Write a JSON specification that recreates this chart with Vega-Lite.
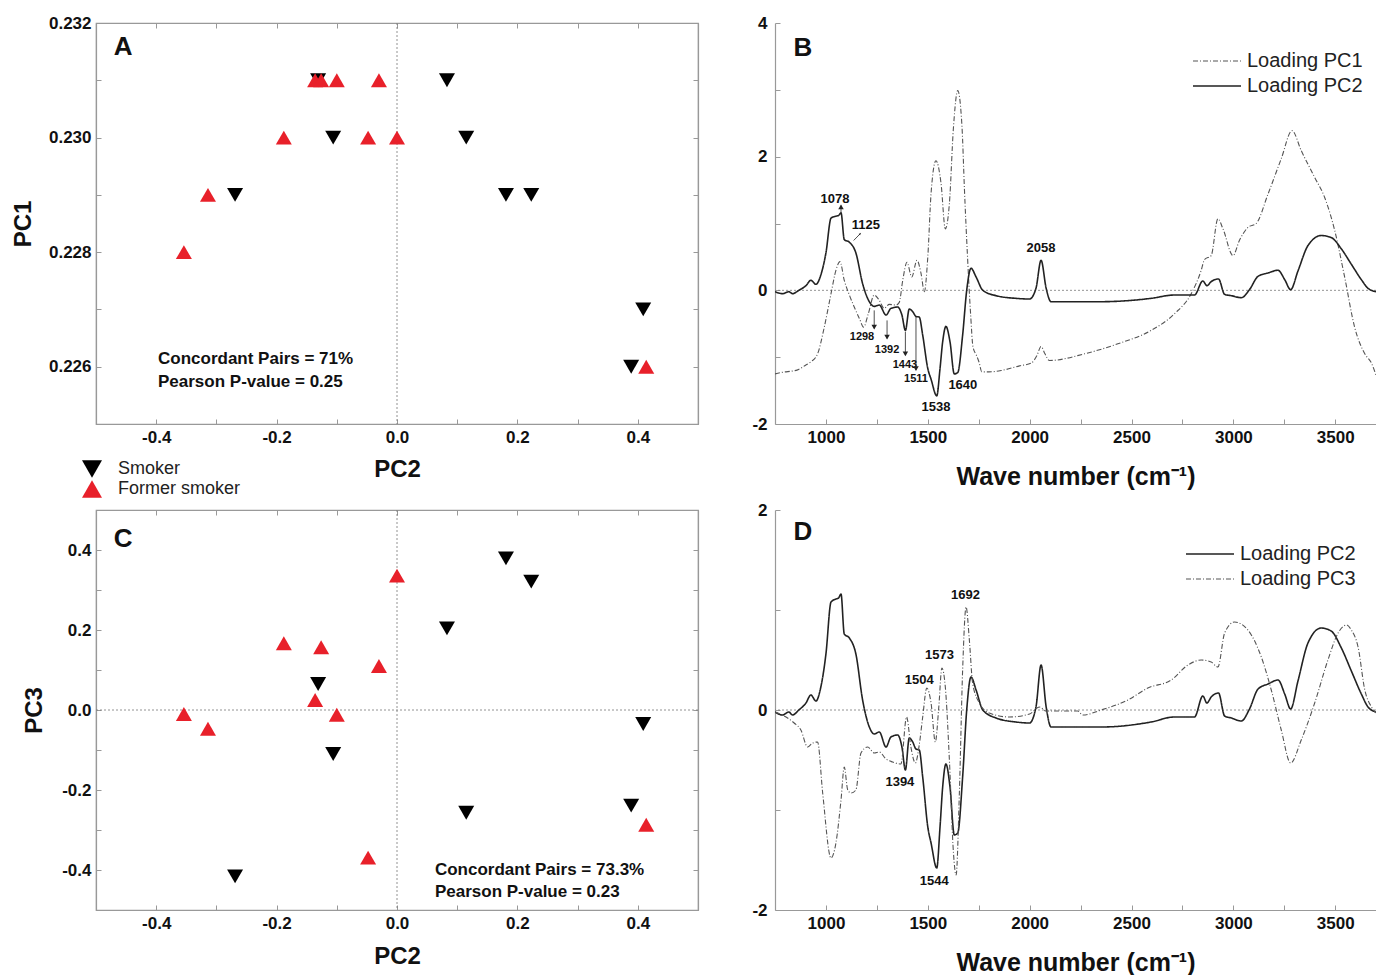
{
 "$schema": "https://vega.github.io/schema/vega-lite/v6.json",
 "background": "white",
 "padding": {"left": 10, "top": 13, "right": 0, "bottom": 0},
 "autosize": {"type": "pad"},
 "config": {
  "font": "Liberation Sans",
  "view": {"stroke": null},
  "axis": {"labelFont": "Liberation Sans", "labelFontWeight": "bold", "labelFontSize": 17, "labelColor": "#111", "titleFont": "Liberation Sans", "titleFontWeight": "bold", "titleFontSize": 24, "titleColor": "#111", "domainColor": "#999", "domainWidth": 1.2, "tickColor": "#999", "tickWidth": 1, "tickSize": -5, "labelPadding": 10, "grid": false, "labelFlush": false, "labelOverlap": false},
  "legend": {"labelFont": "Liberation Sans", "labelColor": "#222", "labelFontWeight": "normal", "padding": 0}
 },
 "datasets": {
  "pts": [
   {"group":"Smoker","PC2":-0.131,"PC1":0.231,"PC3":0.065},
   {"group":"Smoker","PC2":0.083,"PC1":0.231,"PC3":0.204},
   {"group":"Smoker","PC2":-0.106,"PC1":0.230,"PC3":-0.110},
   {"group":"Smoker","PC2":0.115,"PC1":0.230,"PC3":-0.257},
   {"group":"Smoker","PC2":-0.269,"PC1":0.229,"PC3":-0.416},
   {"group":"Smoker","PC2":0.181,"PC1":0.229,"PC3":0.379},
   {"group":"Smoker","PC2":0.223,"PC1":0.229,"PC3":0.321},
   {"group":"Smoker","PC2":0.409,"PC1":0.227,"PC3":-0.035},
   {"group":"Smoker","PC2":0.389,"PC1":0.226,"PC3":-0.239},
   {"group":"Former smoker","PC2":-0.136,"PC1":0.231,"PC3":0.025},
   {"group":"Former smoker","PC2":-0.126,"PC1":0.231,"PC3":0.157},
   {"group":"Former smoker","PC2":-0.100,"PC1":0.231,"PC3":-0.012},
   {"group":"Former smoker","PC2":-0.030,"PC1":0.231,"PC3":0.110},
   {"group":"Former smoker","PC2":-0.188,"PC1":0.230,"PC3":0.167},
   {"group":"Former smoker","PC2":-0.048,"PC1":0.230,"PC3":-0.369},
   {"group":"Former smoker","PC2":0.000,"PC1":0.230,"PC3":0.336},
   {"group":"Former smoker","PC2":-0.314,"PC1":0.229,"PC3":-0.047},
   {"group":"Former smoker","PC2":-0.354,"PC1":0.228,"PC3":-0.010},
   {"group":"Former smoker","PC2":0.414,"PC1":0.226,"PC3":-0.287}
  ],
  "spectra": [
   {"s":"Loading PC1","w":750,"v":-1.25},{"s":"Loading PC1","w":779,"v":-1.23},{"s":"Loading PC1","w":861,"v":-1.19},{"s":"Loading PC1","w":900,"v":-1.12},{"s":"Loading PC1","w":926,"v":-1.07},{"s":"Loading PC1","w":959,"v":-0.95},{"s":"Loading PC1","w":992,"v":-0.55},{"s":"Loading PC1","w":1025,"v":-0.05},{"s":"Loading PC1","w":1049,"v":0.30},{"s":"Loading PC1","w":1069,"v":0.43},{"s":"Loading PC1","w":1090,"v":0.15},{"s":"Loading PC1","w":1115,"v":-0.07},{"s":"Loading PC1","w":1139,"v":-0.25},{"s":"Loading PC1","w":1164,"v":-0.42},{"s":"Loading PC1","w":1185,"v":-0.55},{"s":"Loading PC1","w":1208,"v":-0.35},{"s":"Loading PC1","w":1237,"v":-0.07},{"s":"Loading PC1","w":1262,"v":-0.15},{"s":"Loading PC1","w":1286,"v":-0.27},{"s":"Loading PC1","w":1311,"v":-0.21},{"s":"Loading PC1","w":1344,"v":-0.22},{"s":"Loading PC1","w":1360,"v":-0.18},{"s":"Loading PC1","w":1377,"v":0.15},{"s":"Loading PC1","w":1398,"v":0.42},{"s":"Loading PC1","w":1421,"v":0.20},{"s":"Loading PC1","w":1447,"v":0.45},{"s":"Loading PC1","w":1467,"v":0.25},{"s":"Loading PC1","w":1483,"v":-0.02},{"s":"Loading PC1","w":1500,"v":0.50},{"s":"Loading PC1","w":1516,"v":1.45},{"s":"Loading PC1","w":1540,"v":1.94},{"s":"Loading PC1","w":1565,"v":1.60},{"s":"Loading PC1","w":1586,"v":0.92},{"s":"Loading PC1","w":1606,"v":1.30},{"s":"Loading PC1","w":1626,"v":2.44},{"s":"Loading PC1","w":1647,"v":2.99},{"s":"Loading PC1","w":1668,"v":2.44},{"s":"Loading PC1","w":1680,"v":1.50},{"s":"Loading PC1","w":1695,"v":0.50},{"s":"Loading PC1","w":1710,"v":-0.35},{"s":"Loading PC1","w":1722,"v":-0.85},{"s":"Loading PC1","w":1740,"v":-0.98},{"s":"Loading PC1","w":1752,"v":-1.08},{"s":"Loading PC1","w":1765,"v":-1.22},{"s":"Loading PC1","w":1800,"v":-1.22},{"s":"Loading PC1","w":1860,"v":-1.20},{"s":"Loading PC1","w":1950,"v":-1.13},{"s":"Loading PC1","w":2007,"v":-1.09},{"s":"Loading PC1","w":2035,"v":-0.98},{"s":"Loading PC1","w":2056,"v":-0.84},{"s":"Loading PC1","w":2075,"v":-0.95},{"s":"Loading PC1","w":2097,"v":-1.05},{"s":"Loading PC1","w":2269,"v":-0.95},{"s":"Loading PC1","w":2433,"v":-0.80},{"s":"Loading PC1","w":2596,"v":-0.60},{"s":"Loading PC1","w":2711,"v":-0.35},{"s":"Loading PC1","w":2793,"v":-0.05},{"s":"Loading PC1","w":2842,"v":0.30},{"s":"Loading PC1","w":2858,"v":0.46},{"s":"Loading PC1","w":2891,"v":0.52},{"s":"Loading PC1","w":2924,"v":1.07},{"s":"Loading PC1","w":2949,"v":0.92},{"s":"Loading PC1","w":2998,"v":0.52},{"s":"Loading PC1","w":3030,"v":0.75},{"s":"Loading PC1","w":3071,"v":0.94},{"s":"Loading PC1","w":3112,"v":1.00},{"s":"Loading PC1","w":3170,"v":1.44},{"s":"Loading PC1","w":3235,"v":1.97},{"s":"Loading PC1","w":3288,"v":2.39},{"s":"Loading PC1","w":3333,"v":2.09},{"s":"Loading PC1","w":3399,"v":1.69},{"s":"Loading PC1","w":3448,"v":1.39},{"s":"Loading PC1","w":3497,"v":0.90},{"s":"Loading PC1","w":3546,"v":0.20},{"s":"Loading PC1","w":3595,"v":-0.55},{"s":"Loading PC1","w":3645,"v":-0.95},{"s":"Loading PC1","w":3678,"v":-1.09},{"s":"Loading PC1","w":3700,"v":-1.27},
   {"s":"Loading PC2","w":750,"v":-0.02},{"s":"Loading PC2","w":787,"v":-0.05},{"s":"Loading PC2","w":818,"v":-0.02},{"s":"Loading PC2","w":836,"v":-0.05},{"s":"Loading PC2","w":867,"v":0.0},{"s":"Loading PC2","w":902,"v":0.07},{"s":"Loading PC2","w":926,"v":0.15},{"s":"Loading PC2","w":951,"v":0.09},{"s":"Loading PC2","w":975,"v":0.23},{"s":"Loading PC2","w":1000,"v":0.56},{"s":"Loading PC2","w":1025,"v":1.08},{"s":"Loading PC2","w":1049,"v":1.11},{"s":"Loading PC2","w":1062,"v":1.12},{"s":"Loading PC2","w":1074,"v":1.16},{"s":"Loading PC2","w":1090,"v":0.76},{"s":"Loading PC2","w":1115,"v":0.72},{"s":"Loading PC2","w":1147,"v":0.56},{"s":"Loading PC2","w":1180,"v":0.10},{"s":"Loading PC2","w":1213,"v":-0.17},{"s":"Loading PC2","w":1237,"v":-0.24},{"s":"Loading PC2","w":1262,"v":-0.22},{"s":"Loading PC2","w":1295,"v":-0.37},{"s":"Loading PC2","w":1319,"v":-0.27},{"s":"Loading PC2","w":1352,"v":-0.25},{"s":"Loading PC2","w":1373,"v":-0.37},{"s":"Loading PC2","w":1390,"v":-0.60},{"s":"Loading PC2","w":1409,"v":-0.28},{"s":"Loading PC2","w":1426,"v":-0.32},{"s":"Loading PC2","w":1442,"v":-0.39},{"s":"Loading PC2","w":1458,"v":-0.40},{"s":"Loading PC2","w":1475,"v":-0.67},{"s":"Loading PC2","w":1500,"v":-1.17},{"s":"Loading PC2","w":1516,"v":-1.33},{"s":"Loading PC2","w":1544,"v":-1.58},{"s":"Loading PC2","w":1560,"v":-1.17},{"s":"Loading PC2","w":1573,"v":-0.77},{"s":"Loading PC2","w":1589,"v":-0.54},{"s":"Loading PC2","w":1609,"v":-0.77},{"s":"Loading PC2","w":1630,"v":-1.25},{"s":"Loading PC2","w":1647,"v":-1.23},{"s":"Loading PC2","w":1671,"v":-0.67},{"s":"Loading PC2","w":1691,"v":0.0},{"s":"Loading PC2","w":1712,"v":0.33},{"s":"Loading PC2","w":1737,"v":0.20},{"s":"Loading PC2","w":1770,"v":0.0},{"s":"Loading PC2","w":1835,"v":-0.08},{"s":"Loading PC2","w":1933,"v":-0.12},{"s":"Loading PC2","w":1999,"v":-0.13},{"s":"Loading PC2","w":2031,"v":0.03},{"s":"Loading PC2","w":2056,"v":0.45},{"s":"Loading PC2","w":2081,"v":0.03},{"s":"Loading PC2","w":2105,"v":-0.17},{"s":"Loading PC2","w":2351,"v":-0.17},{"s":"Loading PC2","w":2596,"v":-0.12},{"s":"Loading PC2","w":2710,"v":-0.07},{"s":"Loading PC2","w":2809,"v":-0.07},{"s":"Loading PC2","w":2850,"v":0.14},{"s":"Loading PC2","w":2870,"v":0.07},{"s":"Loading PC2","w":2891,"v":0.13},{"s":"Loading PC2","w":2927,"v":0.17},{"s":"Loading PC2","w":2957,"v":-0.06},{"s":"Loading PC2","w":2990,"v":-0.08},{"s":"Loading PC2","w":3039,"v":-0.11},{"s":"Loading PC2","w":3079,"v":0.01},{"s":"Loading PC2","w":3121,"v":0.21},{"s":"Loading PC2","w":3170,"v":0.26},{"s":"Loading PC2","w":3219,"v":0.30},{"s":"Loading PC2","w":3252,"v":0.16},{"s":"Loading PC2","w":3281,"v":0.01},{"s":"Loading PC2","w":3317,"v":0.29},{"s":"Loading PC2","w":3366,"v":0.67},{"s":"Loading PC2","w":3431,"v":0.82},{"s":"Loading PC2","w":3480,"v":0.79},{"s":"Loading PC2","w":3530,"v":0.62},{"s":"Loading PC2","w":3579,"v":0.39},{"s":"Loading PC2","w":3628,"v":0.16},{"s":"Loading PC2","w":3661,"v":0.03},{"s":"Loading PC2","w":3700,"v":-0.02},
   {"s":"Loading PC3","w":750,"v":-0.02},{"s":"Loading PC3","w":804,"v":-0.07},{"s":"Loading PC3","w":844,"v":-0.13},{"s":"Loading PC3","w":877,"v":-0.20},{"s":"Loading PC3","w":910,"v":-0.37},{"s":"Loading PC3","w":935,"v":-0.33},{"s":"Loading PC3","w":959,"v":-0.32},{"s":"Loading PC3","w":984,"v":-0.83},{"s":"Loading PC3","w":1025,"v":-1.48},{"s":"Loading PC3","w":1049,"v":-1.33},{"s":"Loading PC3","w":1074,"v":-0.90},{"s":"Loading PC3","w":1090,"v":-0.57},{"s":"Loading PC3","w":1107,"v":-0.80},{"s":"Loading PC3","w":1123,"v":-0.83},{"s":"Loading PC3","w":1147,"v":-0.80},{"s":"Loading PC3","w":1172,"v":-0.43},{"s":"Loading PC3","w":1205,"v":-0.37},{"s":"Loading PC3","w":1237,"v":-0.43},{"s":"Loading PC3","w":1262,"v":-0.42},{"s":"Loading PC3","w":1295,"v":-0.49},{"s":"Loading PC3","w":1327,"v":-0.52},{"s":"Loading PC3","w":1368,"v":-0.54},{"s":"Loading PC3","w":1396,"v":-0.07},{"s":"Loading PC3","w":1417,"v":-0.37},{"s":"Loading PC3","w":1439,"v":-0.53},{"s":"Loading PC3","w":1458,"v":-0.35},{"s":"Loading PC3","w":1475,"v":-0.07},{"s":"Loading PC3","w":1495,"v":0.22},{"s":"Loading PC3","w":1516,"v":0.07},{"s":"Loading PC3","w":1537,"v":-0.32},{"s":"Loading PC3","w":1554,"v":0.03},{"s":"Loading PC3","w":1569,"v":0.42},{"s":"Loading PC3","w":1586,"v":0.23},{"s":"Loading PC3","w":1606,"v":-0.50},{"s":"Loading PC3","w":1626,"v":-1.43},{"s":"Loading PC3","w":1639,"v":-1.65},{"s":"Loading PC3","w":1655,"v":-0.83},{"s":"Loading PC3","w":1671,"v":0.40},{"s":"Loading PC3","w":1688,"v":1.03},{"s":"Loading PC3","w":1704,"v":0.70},{"s":"Loading PC3","w":1720,"v":0.27},{"s":"Loading PC3","w":1753,"v":0.07},{"s":"Loading PC3","w":1802,"v":-0.03},{"s":"Loading PC3","w":1900,"v":-0.07},{"s":"Loading PC3","w":2000,"v":-0.04},{"s":"Loading PC3","w":2048,"v":0.03},{"s":"Loading PC3","w":2081,"v":-0.01},{"s":"Loading PC3","w":2236,"v":-0.01},{"s":"Loading PC3","w":2261,"v":-0.05},{"s":"Loading PC3","w":2351,"v":0.0},{"s":"Loading PC3","w":2482,"v":0.10},{"s":"Loading PC3","w":2580,"v":0.22},{"s":"Loading PC3","w":2695,"v":0.30},{"s":"Loading PC3","w":2777,"v":0.45},{"s":"Loading PC3","w":2842,"v":0.50},{"s":"Loading PC3","w":2891,"v":0.48},{"s":"Loading PC3","w":2924,"v":0.43},{"s":"Loading PC3","w":2957,"v":0.77},{"s":"Loading PC3","w":3006,"v":0.88},{"s":"Loading PC3","w":3071,"v":0.80},{"s":"Loading PC3","w":3137,"v":0.53},{"s":"Loading PC3","w":3186,"v":0.20},{"s":"Loading PC3","w":3235,"v":-0.20},{"s":"Loading PC3","w":3281,"v":-0.53},{"s":"Loading PC3","w":3333,"v":-0.30},{"s":"Loading PC3","w":3399,"v":0.07},{"s":"Loading PC3","w":3464,"v":0.50},{"s":"Loading PC3","w":3514,"v":0.77},{"s":"Loading PC3","w":3555,"v":0.85},{"s":"Loading PC3","w":3579,"v":0.80},{"s":"Loading PC3","w":3612,"v":0.63},{"s":"Loading PC3","w":3645,"v":0.20},{"s":"Loading PC3","w":3678,"v":0.03},{"s":"Loading PC3","w":3700,"v":-0.03}
  ]
 },
 "columns": 2,
 "spacing": {"row": 86, "column": 77},
 "bounds": "flush",
 "resolve": {"scale": {"x": "independent", "y": "independent", "color": "independent", "shape": "independent", "strokeDash": "independent", "strokeWidth": "independent"}, "legend": {"color": "independent", "shape": "independent", "strokeDash": "independent"}},
 "concat": [
  {
   "width": 602, "height": 401,
   "view": {"stroke": "#999", "strokeWidth": 1.2},
   "resolve": {"axis": {"x": "independent", "y": "independent"}},
   "layer": [
    {"data": {"values": [{"zero": 0}]}, "mark": {"type": "rule", "color": "#777", "strokeDash": [2, 2], "strokeWidth": 0.8},
     "encoding": {"x": {"field": "zero", "type": "quantitative", "scale": {"domain": [-0.5, 0.5], "nice": false, "zero": false}, "axis": null}}},
    {"data": {"name": "pts"}, "mark": {"type": "point", "filled": true, "size": 256, "opacity": 1, "strokeWidth": 0},
     "encoding": {
      "x": {"field": "PC2", "type": "quantitative", "scale": {"domain": [-0.5, 0.5], "nice": false, "zero": false}, "axis": {"orient": "bottom", "title": "PC2", "titlePadding": 12, "values": [-0.5, -0.4, -0.3, -0.2, -0.1, 0, 0.1, 0.2, 0.3, 0.4, 0.5], "labelExpr": "abs(round(datum.value*10)) % 2 == 0 ? replace(format(datum.value, '.1f'), '\u2212', '-') : ''"}},
      "y": {"field": "PC1", "type": "quantitative", "scale": {"domain": [0.225, 0.232], "nice": false, "zero": false}, "axis": {"orient": "left", "title": "PC1", "titlePadding": 13, "values": [0.225, 0.226, 0.227, 0.228, 0.229, 0.23, 0.231, 0.232], "labelExpr": "round(datum.value*1000) % 2 == 0 ? format(datum.value, '.3f') : ''"}},
      "shape": {"field": "group", "type": "nominal", "scale": {"domain": ["Smoker", "Former smoker"], "range": ["triangle-down", "triangle-up"]}, "legend": {"title": null, "orient": "none", "legendX": -14, "legendY": 436, "labelFontSize": 18, "symbolSize": 400, "labelOffset": 16, "rowPadding": 1, "symbolStrokeWidth": 0}},
      "color": {"field": "group", "type": "nominal", "scale": {"domain": ["Smoker", "Former smoker"], "range": ["#000000", "#e8202a"]}, "legend": {"title": null, "orient": "none", "legendX": -14, "legendY": 436, "labelFontSize": 18, "symbolSize": 400, "labelOffset": 16, "rowPadding": 1, "symbolStrokeWidth": 0}}
     }},
    {"data": {"values": [{"label": "A", "x": -0.455, "y": 0.23158}]}, "mark": {"type": "text", "fontSize": 26, "fontWeight": "bold", "color": "#111", "align": "center", "baseline": "middle"},
     "encoding": {
      "x": {"field": "x", "type": "quantitative", "scale": {"domain": [-0.5, 0.5], "nice": false, "zero": false}, "axis": {"orient": "top", "labels": false, "title": null, "values": [-0.5, -0.4, -0.3, -0.2, -0.1, 0, 0.1, 0.2, 0.3, 0.4, 0.5]}},
      "y": {"field": "y", "type": "quantitative", "scale": {"domain": [0.225, 0.232], "nice": false, "zero": false}, "axis": {"orient": "right", "labels": false, "title": null, "values": [0.225, 0.226, 0.227, 0.228, 0.229, 0.23, 0.231, 0.232]}},
      "text": {"field": "label"}
     }},
    {"data": {"values": [{"label": "Concordant Pairs = 71%", "x": -0.397, "y": 0.22614}, {"label": "Pearson P-value = 0.25", "x": -0.397, "y": 0.22574}]}, "mark": {"type": "text", "fontSize": 17, "fontWeight": "bold", "color": "#111", "align": "left", "baseline": "middle"},
     "encoding": {
      "x": {"field": "x", "type": "quantitative", "scale": {"domain": [-0.5, 0.5], "nice": false, "zero": false}, "axis": null},
      "y": {"field": "y", "type": "quantitative", "scale": {"domain": [0.225, 0.232], "nice": false, "zero": false}, "axis": null},
      "text": {"field": "label"}
     }}
   ]
  },
  {
   "width": 601, "height": 401,
   "resolve": {"axis": {"x": "independent", "y": "independent"}},
   "layer": [
    {"data": {"values": [{"zero": 0}]}, "mark": {"type": "rule", "color": "#777", "strokeDash": [2, 2], "strokeWidth": 0.8},
     "encoding": {"y": {"field": "zero", "type": "quantitative", "scale": {"domain": [-2, 4], "nice": false, "zero": false}, "axis": null}}},
    {"data": {"name": "spectra"}, "transform": [{"filter": {"field": "s", "oneOf": ["Loading PC1", "Loading PC2"]}}],
     "mark": {"type": "line", "interpolate": "monotone", "clip": true},
     "encoding": {
      "x": {"field": "w", "type": "quantitative", "scale": {"domain": [750, 3700], "nice": false, "zero": false}, "axis": {"orient": "bottom", "title": "Wave number (cm\u207b\u00b9)", "titleFontSize": 25, "titlePadding": 19, "values": [1000, 1250, 1500, 1750, 2000, 2250, 2500, 2750, 3000, 3250, 3500], "labelExpr": "datum.value % 500 == 0 ? format(datum.value, 'd') : ''"}},
      "y": {"field": "v", "type": "quantitative", "scale": {"domain": [-2, 4], "nice": false, "zero": false}, "axis": {"orient": "left", "title": null, "labelPadding": 13, "values": [-2, -1, 0, 1, 2, 3, 4], "labelExpr": "datum.value % 2 == 0 ? replace(format(datum.value, 'd'), '\u2212', '-') : ''"}},
      "detail": {"field": "s"},
      "strokeDash": {"field": "s", "type": "nominal", "scale": {"domain": ["Loading PC1", "Loading PC2"], "range": [[5, 2, 1, 2], [1, 0]]}, "legend": {"title": null, "orient": "none", "legendX": 417, "legendY": 28, "labelFontSize": 20, "symbolType": "stroke", "symbolSize": 2304, "symbolStrokeWidth": 1.2, "clipHeight": 20, "rowPadding": 5, "labelOffset": 5}},
      "color": {"field": "s", "type": "nominal", "scale": {"domain": ["Loading PC1", "Loading PC2"], "range": ["#555555", "#222222"]}, "legend": {"title": null, "orient": "none", "legendX": 417, "legendY": 28, "labelFontSize": 20, "symbolType": "stroke", "symbolSize": 2304, "symbolStrokeWidth": 1.2, "clipHeight": 20, "rowPadding": 5, "labelOffset": 5}},
      "strokeWidth": {"field": "s", "type": "nominal", "scale": {"domain": ["Loading PC1", "Loading PC2"], "range": [1.1, 1.6]}, "legend": null}
     }},
    {"data": {"values": [{"t": "B", "w": 887, "v": 3.63}]}, "mark": {"type": "text", "fontSize": 26, "fontWeight": "bold", "color": "#111", "align": "center", "baseline": "middle"},
     "encoding": {"x": {"field": "w", "type": "quantitative", "scale": {"domain": [750, 3700], "nice": false, "zero": false}, "axis": null}, "y": {"field": "v", "type": "quantitative", "scale": {"domain": [-2, 4], "nice": false, "zero": false}, "axis": null}, "text": {"field": "t"}}},
    {"data": {"values": [{"t": "1078", "w": 1044, "v": 1.37}, {"t": "1125", "w": 1196, "v": 0.985}, {"t": "2058", "w": 2056, "v": 0.627}, {"t": "1538", "w": 1540, "v": -1.74}, {"t": "1640", "w": 1672, "v": -1.42}]},
     "mark": {"type": "text", "fontSize": 13, "fontWeight": "bold", "color": "#111", "align": "center", "baseline": "middle"},
     "encoding": {"x": {"field": "w", "type": "quantitative", "scale": {"domain": [750, 3700], "nice": false, "zero": false}, "axis": null}, "y": {"field": "v", "type": "quantitative", "scale": {"domain": [-2, 4], "nice": false, "zero": false}, "axis": null}, "text": {"field": "t"}}},
    {"data": {"values": [{"t": "1298", "w": 1177, "v": -0.70}, {"t": "1392", "w": 1300, "v": -0.90}, {"t": "1443", "w": 1388, "v": -1.12}, {"t": "1511", "w": 1442, "v": -1.33}]},
     "mark": {"type": "text", "fontSize": 11, "fontWeight": "bold", "color": "#111", "align": "center", "baseline": "middle"},
     "encoding": {"x": {"field": "w", "type": "quantitative", "scale": {"domain": [750, 3700], "nice": false, "zero": false}, "axis": null}, "y": {"field": "v", "type": "quantitative", "scale": {"domain": [-2, 4], "nice": false, "zero": false}, "axis": null}, "text": {"field": "t"}}},
    {"data": {"values": [{"w": 1074, "w2": 1074, "v": 1.16, "v2": 1.27}, {"w": 1136, "w2": 1168, "v": 0.746, "v2": 0.846}, {"w": 1237, "w2": 1237, "v": -0.30, "v2": -0.57}, {"w": 1300, "w2": 1300, "v": -0.45, "v2": -0.72}, {"w": 1390, "w2": 1390, "v": -0.62, "v2": -0.97}, {"w": 1442, "w2": 1442, "v": -0.40, "v2": -1.19}]},
     "mark": {"type": "rule", "color": "#222", "strokeWidth": 0.8},
     "encoding": {"x": {"field": "w", "type": "quantitative", "scale": {"domain": [750, 3700], "nice": false, "zero": false}, "axis": null}, "x2": {"field": "w2"}, "y": {"field": "v", "type": "quantitative", "scale": {"domain": [-2, 4], "nice": false, "zero": false}, "axis": null}, "y2": {"field": "v2"}}},
    {"data": {"values": [{"w": 1074, "v": 1.25, "dir": "up"}, {"w": 1166, "v": 0.84, "dir": "upright"}, {"w": 1237, "v": -0.55, "dir": "down"}, {"w": 1300, "v": -0.70, "dir": "down"}, {"w": 1390, "v": -0.95, "dir": "down"}, {"w": 1442, "v": -1.17, "dir": "down"}]},
     "mark": {"type": "point", "filled": true, "size": 30, "color": "#222", "opacity": 1, "strokeWidth": 0},
     "encoding": {"x": {"field": "w", "type": "quantitative", "scale": {"domain": [750, 3700], "nice": false, "zero": false}, "axis": null}, "y": {"field": "v", "type": "quantitative", "scale": {"domain": [-2, 4], "nice": false, "zero": false}, "axis": null},
      "shape": {"field": "dir", "type": "nominal", "scale": {"domain": ["up", "down", "upright"], "range": ["triangle-up", "triangle-down", "M0.5,-0.5L0.11,0.39L-0.39,-0.11Z"]}, "legend": null}}}
   ]
  },
  {
   "width": 602, "height": 400,
   "view": {"stroke": "#999", "strokeWidth": 1.2},
   "resolve": {"axis": {"x": "independent", "y": "independent"}},
   "layer": [
    {"data": {"values": [{"zero": 0}]}, "mark": {"type": "rule", "color": "#777", "strokeDash": [2, 2], "strokeWidth": 0.8},
     "encoding": {"x": {"field": "zero", "type": "quantitative", "scale": {"domain": [-0.5, 0.5], "nice": false, "zero": false}, "axis": null}}},
    {"data": {"values": [{"zero": 0}]}, "mark": {"type": "rule", "color": "#777", "strokeDash": [2, 2], "strokeWidth": 0.8},
     "encoding": {"y": {"field": "zero", "type": "quantitative", "scale": {"domain": [-0.5, 0.5], "nice": false, "zero": false}, "axis": null}}},
    {"data": {"name": "pts"}, "mark": {"type": "point", "filled": true, "size": 256, "opacity": 1, "strokeWidth": 0},
     "encoding": {
      "x": {"field": "PC2", "type": "quantitative", "scale": {"domain": [-0.5, 0.5], "nice": false, "zero": false}, "axis": {"orient": "bottom", "title": "PC2", "titlePadding": 13, "values": [-0.5, -0.4, -0.3, -0.2, -0.1, 0, 0.1, 0.2, 0.3, 0.4, 0.5], "labelExpr": "abs(round(datum.value*10)) % 2 == 0 ? replace(format(datum.value, '.1f'), '\u2212', '-') : ''"}},
      "y": {"field": "PC3", "type": "quantitative", "scale": {"domain": [-0.5, 0.5], "nice": false, "zero": false}, "axis": {"orient": "left", "title": "PC3", "titlePadding": 15, "values": [-0.5, -0.4, -0.3, -0.2, -0.1, 0, 0.1, 0.2, 0.3, 0.4, 0.5], "labelExpr": "abs(round(datum.value*10)) % 2 == 0 ? replace(format(datum.value, '.1f'), '\u2212', '-') : ''"}},
      "shape": {"field": "group", "type": "nominal", "scale": {"domain": ["Smoker", "Former smoker"], "range": ["triangle-down", "triangle-up"]}, "legend": null},
      "color": {"field": "group", "type": "nominal", "scale": {"domain": ["Smoker", "Former smoker"], "range": ["#000000", "#e8202a"]}, "legend": null}
     }},
    {"data": {"values": [{"label": "C", "x": -0.455, "y": 0.427}]}, "mark": {"type": "text", "fontSize": 26, "fontWeight": "bold", "color": "#111", "align": "center", "baseline": "middle"},
     "encoding": {
      "x": {"field": "x", "type": "quantitative", "scale": {"domain": [-0.5, 0.5], "nice": false, "zero": false}, "axis": {"orient": "top", "labels": false, "title": null, "values": [-0.5, -0.4, -0.3, -0.2, -0.1, 0, 0.1, 0.2, 0.3, 0.4, 0.5]}},
      "y": {"field": "y", "type": "quantitative", "scale": {"domain": [-0.5, 0.5], "nice": false, "zero": false}, "axis": {"orient": "right", "labels": false, "title": null, "values": [-0.5, -0.4, -0.3, -0.2, -0.1, 0, 0.1, 0.2, 0.3, 0.4, 0.5]}},
      "text": {"field": "label"}
     }},
    {"data": {"values": [{"label": "Concordant Pairs = 73.3%", "x": 0.063, "y": -0.401}, {"label": "Pearson P-value = 0.23", "x": 0.063, "y": -0.456}]}, "mark": {"type": "text", "fontSize": 17, "fontWeight": "bold", "color": "#111", "align": "left", "baseline": "middle"},
     "encoding": {
      "x": {"field": "x", "type": "quantitative", "scale": {"domain": [-0.5, 0.5], "nice": false, "zero": false}, "axis": null},
      "y": {"field": "y", "type": "quantitative", "scale": {"domain": [-0.5, 0.5], "nice": false, "zero": false}, "axis": null},
      "text": {"field": "label"}
     }}
   ]
  },
  {
   "width": 601, "height": 400,
   "resolve": {"axis": {"x": "independent", "y": "independent"}},
   "layer": [
    {"data": {"values": [{"zero": 0}]}, "mark": {"type": "rule", "color": "#777", "strokeDash": [2, 2], "strokeWidth": 0.8},
     "encoding": {"y": {"field": "zero", "type": "quantitative", "scale": {"domain": [-2, 2], "nice": false, "zero": false}, "axis": null}}},
    {"data": {"name": "spectra"}, "transform": [{"filter": {"field": "s", "oneOf": ["Loading PC2", "Loading PC3"]}}],
     "mark": {"type": "line", "interpolate": "monotone", "clip": true},
     "encoding": {
      "x": {"field": "w", "type": "quantitative", "scale": {"domain": [750, 3700], "nice": false, "zero": false}, "axis": {"orient": "bottom", "title": "Wave number (cm\u207b\u00b9)", "titleFontSize": 25, "titlePadding": 19, "values": [1000, 1250, 1500, 1750, 2000, 2250, 2500, 2750, 3000, 3250, 3500], "labelExpr": "datum.value % 500 == 0 ? format(datum.value, 'd') : ''"}},
      "y": {"field": "v", "type": "quantitative", "scale": {"domain": [-2, 2], "nice": false, "zero": false}, "axis": {"orient": "left", "title": null, "labelPadding": 13, "values": [-2, -1, 0, 1, 2], "labelExpr": "datum.value % 2 == 0 ? replace(format(datum.value, 'd'), '\u2212', '-') : ''"}},
      "detail": {"field": "s"},
      "strokeDash": {"field": "s", "type": "nominal", "scale": {"domain": ["Loading PC2", "Loading PC3"], "range": [[1, 0], [5, 2, 1, 2]]}, "legend": {"title": null, "orient": "none", "legendX": 410, "legendY": 34, "labelFontSize": 20, "symbolType": "stroke", "symbolSize": 2304, "symbolStrokeWidth": 1.2, "clipHeight": 20, "rowPadding": 5, "labelOffset": 5}},
      "color": {"field": "s", "type": "nominal", "scale": {"domain": ["Loading PC2", "Loading PC3"], "range": ["#222222", "#555555"]}, "legend": {"title": null, "orient": "none", "legendX": 410, "legendY": 34, "labelFontSize": 20, "symbolType": "stroke", "symbolSize": 2304, "symbolStrokeWidth": 1.2, "clipHeight": 20, "rowPadding": 5, "labelOffset": 5}},
      "strokeWidth": {"field": "s", "type": "nominal", "scale": {"domain": ["Loading PC2", "Loading PC3"], "range": [1.6, 1.1]}, "legend": null}
     }},
    {"data": {"values": [{"t": "D", "w": 887, "v": 1.78}]}, "mark": {"type": "text", "fontSize": 26, "fontWeight": "bold", "color": "#111", "align": "center", "baseline": "middle"},
     "encoding": {"x": {"field": "w", "type": "quantitative", "scale": {"domain": [750, 3700], "nice": false, "zero": false}, "axis": null}, "y": {"field": "v", "type": "quantitative", "scale": {"domain": [-2, 2], "nice": false, "zero": false}, "axis": null}, "text": {"field": "t"}}},
    {"data": {"values": [{"t": "1692", "w": 1685, "v": 1.15}, {"t": "1573", "w": 1557, "v": 0.547}, {"t": "1504", "w": 1458, "v": 0.30}, {"t": "1394", "w": 1363, "v": -0.717}, {"t": "1544", "w": 1532, "v": -1.71}]},
     "mark": {"type": "text", "fontSize": 13, "fontWeight": "bold", "color": "#111", "align": "center", "baseline": "middle"},
     "encoding": {"x": {"field": "w", "type": "quantitative", "scale": {"domain": [750, 3700], "nice": false, "zero": false}, "axis": null}, "y": {"field": "v", "type": "quantitative", "scale": {"domain": [-2, 2], "nice": false, "zero": false}, "axis": null}, "text": {"field": "t"}}}
   ]
  }
 ]
}
